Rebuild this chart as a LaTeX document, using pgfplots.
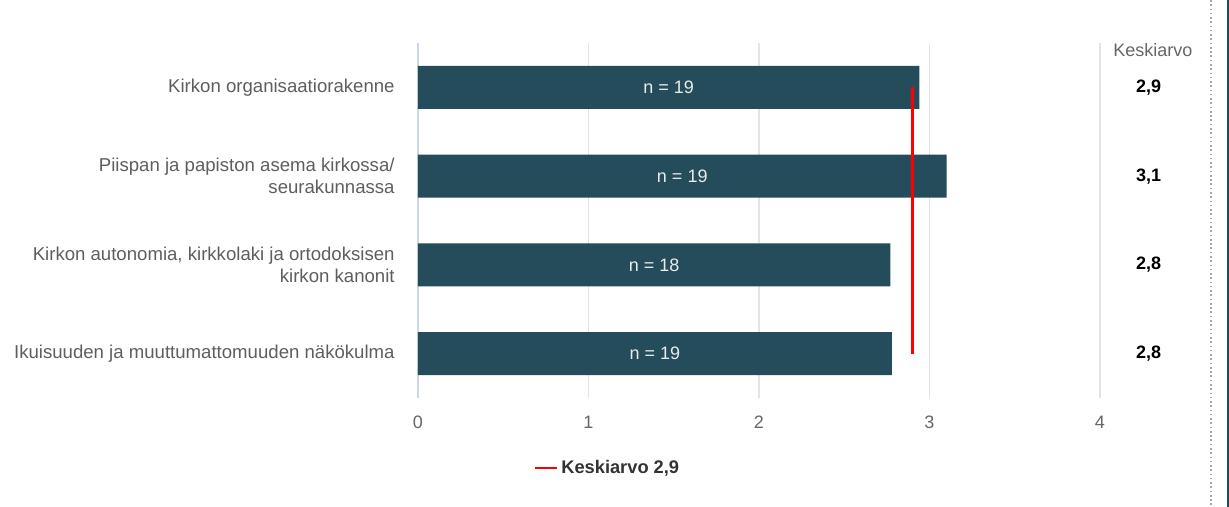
\documentclass[border=0pt]{standalone}
\usepackage{pgfplots}
\pgfplotsset{compat=1.18}
\usepackage{pgfplotstable}
\usepackage{fontspec}
\setmainfont{Liberation Sans}
\definecolor{barc}{HTML}{244C5A}
\definecolor{gridc}{HTML}{E3E3E3}
\definecolor{axisc}{HTML}{CCD6EB}
\definecolor{labc}{HTML}{5E5E5E}
\definecolor{tickc}{HTML}{666666}
\definecolor{darkframe}{HTML}{1F4A56}

\pgfplotstableread{
y val n mean
0 2.94 19 2,9
1 3.10 19 3,1
2 2.77 18 2,8
3 2.78 19 2,8
}\data

\begin{document}
\begin{tikzpicture}[x=0.75pt,y=0.75pt,font=\fontsize{13.5pt}{16.5pt}\selectfont]
\path[use as bounding box] (-418,-109) rectangle (811,398);
\draw[gray!70, line width=1.2pt, dotted] (793,398) -- (793,-109);
\fill[darkframe] (808.5,398) rectangle (811,-109);
\begin{axis}[
  at={(0,0)}, anchor=south west,
  scale only axis, width=511.5pt, height=266.25pt,
  xmin=0, xmax=4, ymin=-0.5, ymax=3.5,
  y dir=reverse,
  clip=false,
  axis y line*=left, axis x line*=bottom,
  x axis line style={draw=none},
  y axis line style={draw=axisc, line width=0.8pt},
  xmajorgrids, grid style={draw=gridc, line width=0.8pt},
  major tick length=0pt,
  xtick={0,1,2,3,4},
  /pgf/number format/assume math mode=true,
  xticklabel style={text=tickc, yshift=-10pt},
  ytick={0,1,2,3},
  yticklabels={Kirkon organisaatiorakenne,
    {Piispan ja papiston asema kirkossa/\\seurakunnassa},
    {Kirkon autonomia, kirkkolaki ja ortodoksisen\\kirkon kanonit},
    Ikuisuuden ja muuttumattomuuden näkökulma},
  yticklabel style={text=labc, align=right, xshift=-14pt,
    font=\fontsize{13.95pt}{16.5pt}\selectfont},
  legend style={draw=none, at={(0.278,-0.197)}, anchor=center,
    font=\bfseries\fontsize{13.7pt}{16.5pt}\selectfont, text=black!80},
  legend image code/.code={\draw[#1] (0pt,0pt) -- (17pt,0pt);},
]
\addplot[xbar, fill=barc, draw=none, bar width=32.25pt, forget plot]
  table[x=val, y=y] {\data};
\addplot[draw=none, mark=none, forget plot,
  point meta=explicit symbolic,
  nodes near coords={n = \pgfplotspointmeta},
  nodes near coords align=center,
  nodes near coords style={text=white!92!black}]
  table[x expr=\thisrow{val}/2, y=y, meta=n] {\data};
\addplot[draw=none, mark=none, forget plot,
  point meta=explicit symbolic,
  nodes near coords={\pgfplotspointmeta},
  nodes near coords align=center,
  nodes near coords style={text=black, font=\bfseries\fontsize{13.5pt}{16.5pt}\selectfont}]
  table[x expr=4.285, y=y, meta=mean] {\data};
\node[text=tickc] at (axis cs:4.31,-0.42) {Keskiarvo};
\addplot[color={rgb,255:red,255;green,0;blue,0}, line width=2pt]
  coordinates {(2.9,0) (2.9,3)};
\addlegendentry{Keskiarvo 2,9}
\end{axis}
\end{tikzpicture}
\end{document}
